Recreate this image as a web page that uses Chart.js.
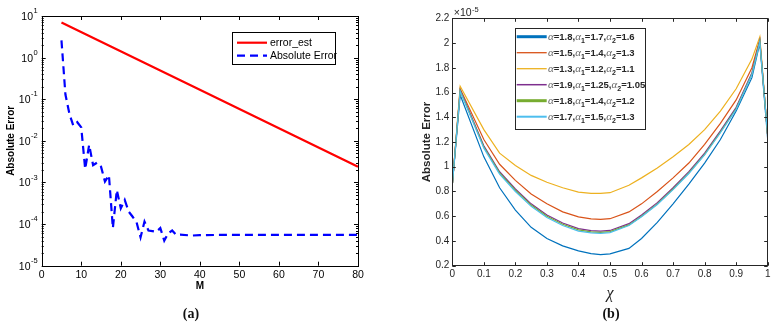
<!DOCTYPE html>
<html>
<head>
<meta charset="utf-8">
<script src="https://cdn.jsdelivr.net/npm/chart.js@4.4.1/dist/chart.umd.min.js"></script>
<style>
body{margin:0;background:#fff;width:780px;height:323px;overflow:hidden;position:relative}
.pane{position:absolute;top:0;width:390px;height:323px}
.cap{position:absolute;top:306px;width:40px;text-align:center;font:bold 14px "Liberation Serif",serif;color:#111}
</style>
</head>
<body>
<div class="pane" style="left:0"><canvas id="chartA" width="390" height="323"></canvas></div>
<div class="pane" style="left:390px"><canvas id="chartB" width="390" height="323"></canvas></div>
<div class="cap" style="left:171px">(a)</div>
<div class="cap" style="left:591px">(b)</div>
<script>
// ---- 图 (a) 数据 ----
const mEst = [5, 40, 80];
const errEst = [7, 0.17, 0.0024];
const mAbs = [5, 6, 7, 8, 9, 10, 11, 12, 13, 14, 15, 16, 17, 18, 19, 20, 21, 22, 23, 24, 25, 26, 27, 28, 29, 30, 31, 32, 33, 34, 35, 38, 40, 45, 50, 55, 60, 65, 70, 75, 80];
const absErr = [2.6, 0.13, 0.045, 0.023, 0.028, 0.021, 0.0021, 0.008, 0.0026, 0.003, 0.0024, 0.00105, 0.0015, 0.00008, 0.00066, 0.00024, 0.00038, 0.0002, 0.00015, 0.00011, 0.000048, 0.000115, 0.00007, 0.000068, 0.000065, 0.00008, 0.00004, 0.00006, 0.00007, 0.000055, 0.000056, 0.000053, 0.000054, 0.000055, 0.000055, 0.000055, 0.000055, 0.000055, 0.000055, 0.000055, 0.000055];
const logTicks = [1e-5, 1e-4, 1e-3, 1e-2, 1e-1, 1, 10];
const logExps = ['-5', '-4', '-3', '-2', '-1', '0', '1'];

// ---- 图 (b) 数据 (单位 ×10^-5) ----
const xs = [0, 0.025, 0.1, 0.15, 0.2, 0.25, 0.3, 0.35, 0.4, 0.44, 0.47, 0.5, 0.56, 0.6, 0.65, 0.7, 0.75, 0.8, 0.85, 0.9, 0.95, 0.975, 1];
const alphaSets = [['1.8', '1.7', '1.6'], ['1.5', '1.4', '1.3'], ['1.3', '1.2', '1.1'], ['1.9', '1.25', '1.05'], ['1.8', '1.4', '1.2'], ['1.7', '1.5', '1.3']];
const errBlue   = [0.85, 1.58, 1.08, 0.83, 0.65, 0.51, 0.42, 0.36, 0.32, 0.298, 0.29, 0.295, 0.34, 0.42, 0.55, 0.7, 0.86, 1.03, 1.22, 1.45, 1.72, 2.0, 1.22];
const errRed    = [0.85, 1.63, 1.22, 1.02, 0.89, 0.78, 0.7, 0.635, 0.595, 0.578, 0.575, 0.58, 0.635, 0.7, 0.8, 0.91, 1.03, 1.18, 1.35, 1.54, 1.8, 2.03, 1.25];
const errYellow = [0.85, 1.65, 1.3, 1.11, 1.01, 0.93, 0.875, 0.83, 0.795, 0.785, 0.785, 0.79, 0.85, 0.91, 0.99, 1.08, 1.18, 1.3, 1.45, 1.63, 1.87, 2.05, 1.25];
const errPurple = [0.85, 1.62, 1.17, 0.96, 0.82, 0.7, 0.61, 0.545, 0.5, 0.483, 0.48, 0.485, 0.54, 0.61, 0.71, 0.83, 0.96, 1.11, 1.29, 1.48, 1.76, 2.02, 1.25];
const errGreen  = [0.85, 1.615, 1.16, 0.95, 0.81, 0.69, 0.6, 0.535, 0.49, 0.473, 0.47, 0.475, 0.53, 0.6, 0.7, 0.82, 0.95, 1.1, 1.28, 1.47, 1.75, 2.015, 1.25];
const errCyan   = [0.85, 1.61, 1.15, 0.94, 0.8, 0.68, 0.59, 0.525, 0.48, 0.465, 0.462, 0.468, 0.525, 0.595, 0.695, 0.815, 0.945, 1.095, 1.275, 1.465, 1.745, 2.01, 1.25];
const seriesB = [errBlue, errRed, errYellow, errPurple, errGreen, errCyan];
const colorsB = ['#0072BD', '#D95319', '#EDB120', '#7E2F8E', '#77AC30', '#4DBEEE'];
const legendWidthsB = [3, 1.3, 1.3, 1.5, 3, 2];

const FONT = '"Liberation Sans", Arial, sans-serif';
const pts = (xv, yv) => xv.map((x, i) => ({x: x, y: yv[i]}));

// 刻度朝内 + 外框
const boxTicks = {
  id: 'boxTicks',
  afterDatasetsDraw(chart, args, opts) {
    const {ctx, chartArea: a} = chart;
    const sx = chart.scales.x, sy = chart.scales.y;
    const len = opts.len;
    ctx.save();
    ctx.strokeStyle = opts.color;
    ctx.lineWidth = 1;
    ctx.beginPath();
    sx.ticks.forEach(t => {
      const p = Math.round(sx.getPixelForValue(t.value)) + 0.5;
      ctx.moveTo(p, a.bottom); ctx.lineTo(p, a.bottom - len);
      ctx.moveTo(p, a.top); ctx.lineTo(p, a.top + len);
    });
    const yTick = (v, l) => {
      const p = Math.round(sy.getPixelForValue(v)) + 0.5;
      ctx.moveTo(a.left, p); ctx.lineTo(a.left + l, p);
      ctx.moveTo(a.right, p); ctx.lineTo(a.right - l, p);
    };
    sy.ticks.forEach(t => yTick(t.value, len));
    if (opts.minor) {
      for (let d = -5; d < 1; d++) for (let k = 2; k < 10; k++) yTick(k * Math.pow(10, d), len / 2);
    }
    ctx.stroke();
    ctx.strokeRect(Math.round(a.left) + 0.5, Math.round(a.top) + 0.5, Math.round(a.right - a.left), Math.round(a.bottom - a.top));
    ctx.restore();
  }
};

// 对数轴标签 10^n
const logLabels = {
  id: 'logLabels',
  afterDraw(chart) {
    const {ctx, chartArea: a} = chart;
    const sy = chart.scales.y;
    ctx.save();
    ctx.fillStyle = '#000';
    ctx.textBaseline = 'middle';
    logTicks.forEach((v, i) => {
      const p = sy.getPixelForValue(v);
      ctx.font = '7.5px ' + FONT;
      const ew = ctx.measureText(logExps[i]).width;
      const right = a.left - 4;
      ctx.textAlign = 'left';
      ctx.fillText(logExps[i], right - ew, p - 5);
      ctx.font = '10.5px ' + FONT;
      ctx.textAlign = 'right';
      ctx.fillText('10', right - ew - 0.5, p + 1);
    });
    ctx.restore();
  }
};

// 图 (a) 图例
const legendA = {
  id: 'legendA',
  afterDraw(chart) {
    const {ctx, chartArea: a} = chart;
    const bx = a.right - 126, by = a.top + 16.3, bw = 103.3, bh = 31.7;
    ctx.save();
    ctx.fillStyle = '#fff';
    ctx.fillRect(bx, by, bw, bh);
    ctx.strokeStyle = '#000';
    ctx.lineWidth = 1;
    ctx.strokeRect(Math.round(bx) + 0.5, Math.round(by) + 0.5, Math.round(bw), Math.round(bh));
    chart.data.datasets.forEach((ds, i) => {
      const y = by + 10.4 + i * 13;
      ctx.strokeStyle = ds.borderColor;
      ctx.lineWidth = ds.borderWidth;
      ctx.setLineDash(ds.borderDash || []);
      ctx.beginPath(); ctx.moveTo(bx + 5, y); ctx.lineTo(bx + 35, y); ctx.stroke();
      ctx.setLineDash([]);
      ctx.fillStyle = '#000';
      ctx.font = '10.5px ' + FONT;
      ctx.textBaseline = 'middle';
      ctx.fillText(ds.label, bx + 38, y + 0.5);
    });
    ctx.restore();
  }
};

// 图 (b) 图例 (带下标)
const legendB = {
  id: 'legendB',
  afterDraw(chart) {
    const {ctx, chartArea: a} = chart;
    const bx = a.left + 62.7, by = a.top + 9.4, bw = 130, bh = 100.6;
    ctx.save();
    ctx.fillStyle = '#fff';
    ctx.fillRect(bx, by, bw, bh);
    ctx.strokeStyle = '#262626';
    ctx.lineWidth = 1;
    ctx.strokeRect(Math.round(bx) + 0.5, Math.round(by) + 0.5, Math.round(bw), Math.round(bh));
    ctx.textBaseline = 'alphabetic';
    alphaSets.forEach((vals, i) => {
      const y = by + 9 + i * 16;
      ctx.strokeStyle = colorsB[i];
      ctx.lineWidth = legendWidthsB[i];
      ctx.beginPath(); ctx.moveTo(bx + 1.7, y); ctx.lineTo(bx + 31.7, y); ctx.stroke();
      let x = bx + 33;
      const base = y + 3.5;
      ['', '1', '2'].forEach((sub, k) => {
        ctx.font = 'italic 11px "Liberation Serif", serif';
        ctx.fillStyle = '#666';
        ctx.fillText('α', x, base);
        x += ctx.measureText('α').width;
        if (sub) {
          ctx.font = 'bold 7px ' + FONT;
          ctx.fillStyle = '#262626';
          ctx.fillText(sub, x, base + 2.5);
          x += ctx.measureText(sub).width;
        }
        const txt = '=' + vals[k] + (k < 2 ? ',' : '');
        ctx.font = 'bold 9.5px ' + FONT;
        ctx.fillStyle = '#262626';
        ctx.fillText(txt, x, base);
        x += ctx.measureText(txt).width;
      });
    });
    // ×10^-5
    ctx.fillStyle = '#262626';
    ctx.font = '10.5px ' + FONT;
    ctx.fillText('×10', a.left + 1.5, a.top - 2);
    const w = ctx.measureText('×10').width;
    ctx.font = '7.5px ' + FONT;
    ctx.fillText('-5', a.left + 2 + w, a.top - 6.5);
    ctx.restore();
  }
};

const noGrid = {display: false, drawTicks: false};

// 图 (a)
new Chart(document.getElementById('chartA'), {
  type: 'line',
  data: {
    datasets: [
      {label: 'error_est', data: pts(mEst, errEst), borderColor: '#ff0000', borderWidth: 2.2, pointRadius: 0, fill: false},
      {label: 'Absolute Error', data: pts(mAbs, absErr), borderColor: '#0000ff', borderWidth: 2.2, borderDash: [8, 5], pointRadius: 0, fill: false}
    ]
  },
  options: {
    responsive: false, animation: false, devicePixelRatio: 1,
    layout: {padding: {top: 16, right: 32, left: 0, bottom: 0}},
    plugins: {legend: {display: false}, tooltip: {enabled: false}, boxTicks: {len: 4, color: '#000', minor: true}},
    scales: {
      x: {
        type: 'linear', min: 0, max: 80,
        ticks: {stepSize: 10, autoSkip: false, maxRotation: 0, padding: 3, color: '#000', font: {size: 10.5, family: FONT}},
        grid: noGrid, border: {display: false},
        title: {display: true, text: 'M', color: '#000', font: {size: 10, weight: 'bold', family: FONT}, padding: {top: 0, bottom: 31}},
        afterFit(s) { s.height = 57.3; }
      },
      y: {
        type: 'logarithmic', min: 1e-5, max: 10,
        ticks: {display: false},
        afterBuildTicks(s) { s.ticks = logTicks.map(v => ({value: v})); },
        grid: noGrid, border: {display: false},
        title: {display: true, text: 'Absolute Error', color: '#000', font: {size: 10, weight: 'bold', family: FONT}, padding: {top: 5, bottom: 0}},
        afterFit(s) { s.width = 41.7; }
      }
    }
  },
  plugins: [boxTicks, logLabels, legendA]
});

// 图 (b)
new Chart(document.getElementById('chartB'), {
  type: 'line',
  data: {
    datasets: seriesB.map((ys, i) => ({
      label: 'α=' + alphaSets[i][0] + ',α1=' + alphaSets[i][1] + ',α2=' + alphaSets[i][2],
      data: pts(xs, ys), borderColor: colorsB[i], borderWidth: 1.2, pointRadius: 0, fill: false, order: 5 - i
    }))
  },
  options: {
    responsive: false, animation: false, devicePixelRatio: 1,
    layout: {padding: {top: 18.3, right: 12.3, left: 0, bottom: 0}},
    plugins: {legend: {display: false}, tooltip: {enabled: false}, boxTicks: {len: 3.5, color: '#262626'}},
    scales: {
      x: {
        type: 'linear', min: 0, max: 1,
        ticks: {stepSize: 0.1, autoSkip: false, maxRotation: 0, padding: 3, color: '#262626', font: {size: 10, family: FONT}, callback: v => String(+v.toFixed(2))},
        grid: noGrid, border: {display: false},
        title: {display: true, text: 'χ', color: '#262626', font: {size: 16, style: 'italic', family: '"Liberation Serif", serif'}, padding: {top: 0, bottom: 20}},
        afterFit(s) { s.height = 57.3; }
      },
      y: {
        type: 'linear', min: 0.2, max: 2.2,
        ticks: {stepSize: 0.2, padding: 3, color: '#262626', font: {size: 10, family: FONT}, callback: v => String(+v.toFixed(2))},
        grid: noGrid, border: {display: false},
        title: {display: true, text: 'Absolute Error', color: '#262626', font: {size: 11.5, weight: 'bold', family: FONT}, padding: {top: 29.8, bottom: 0}},
        afterFit(s) { s.width = 62.3; }
      }
    }
  },
  plugins: [boxTicks, legendB]
});
</script>
</body>
</html>
